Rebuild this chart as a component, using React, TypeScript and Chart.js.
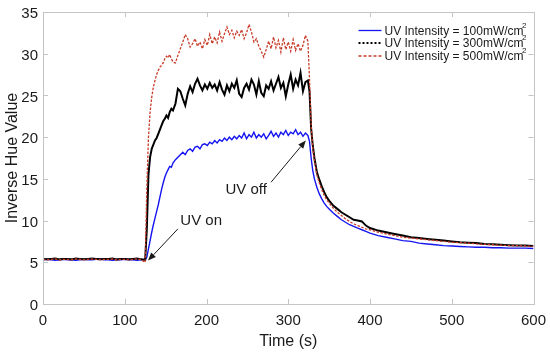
import React, { useEffect, useRef } from "react";
import { Chart, registerables } from "chart.js";

Chart.register(...registerables);

// ---------- DATA ----------
const TIMES = [
  0, 5, 10, 15, 20, 25, 30, 35, 40, 45, 50, 55, 60, 65, 70, 75, 80, 85, 90, 95, 100, 105, 110, 115, 120, 125,
  127, 129, 131, 133, 135, 137, 139, 141, 143, 145, 147, 149, 151, 153, 155, 157, 159,
  162, 165, 168, 171, 174, 177, 180, 183, 186, 189, 192, 195, 198, 201, 204, 207, 210, 213, 216, 219,
  222, 225, 228, 231, 234, 237, 240, 243, 246, 249, 252, 255, 258, 261, 264, 267, 270, 273, 276, 279,
  282, 285, 288, 291, 294, 297, 300, 303, 306, 309, 312, 315, 318, 321, 324,
  326, 328, 330, 332, 335, 338, 341, 344, 347, 350, 355, 360, 365, 370, 375, 380, 385, 390, 395, 400,
  410, 420, 430, 440, 450, 460, 470, 480, 490, 500, 510, 520, 530, 540, 550, 560, 570, 580, 590, 600,
];

const UV100 = [
  5.3, 5.35, 5.3, 5.25, 5.3, 5.35, 5.3, 5.3, 5.25, 5.3, 5.35, 5.3, 5.3, 5.35, 5.4, 5.3, 5.3, 5.25, 5.3, 5.3, 5.35, 5.3, 5.3, 5.25, 5.3, 5.3,
  5.6, 6.6, 7.6, 8.6, 9.5, 10.3, 11.1, 11.9, 12.8, 13.7, 14.5, 15.2, 15.7, 16.1, 16.5, 16.4, 16.9,
  17.3, 17.6, 17.9, 18.2, 17.9, 18.4, 18.6, 18.3, 18.8, 18.9, 18.6, 19.1, 19.2, 19.0, 19.4, 19.2, 19.6, 19.3, 19.7,
  19.5, 19.9, 19.6, 20.0, 19.7, 20.1, 19.8, 20.2, 19.9, 20.5, 19.8, 20.3, 20.0, 20.6, 19.9, 20.3, 20.0, 20.4, 19.8, 20.2,
  20.7, 20.1, 20.5, 20.0, 20.6, 20.3, 20.8, 20.2, 20.6, 20.4, 20.9, 20.3, 20.6, 20.1, 20.5, 20.2,
  19.5, 17.5, 16.0, 15.0, 14.0, 13.2, 12.6, 12.1, 11.7, 11.4, 10.9, 10.5, 10.1, 9.8, 9.5, 9.3, 9.1, 8.9, 8.7, 8.5,
  8.2, 8.0, 7.8, 7.6, 7.5, 7.3, 7.2, 7.1, 7.0, 6.95, 6.9, 6.85, 6.8, 6.8, 6.75, 6.75, 6.7, 6.7, 6.7, 6.65,
];

const UV300 = [
  5.4, 5.35, 5.4, 5.45, 5.35, 5.4, 5.4, 5.35, 5.45, 5.4, 5.35, 5.4, 5.45, 5.4, 5.35, 5.4, 5.4, 5.45, 5.35, 5.4, 5.4, 5.35, 5.4, 5.45, 5.35, 5.3,
  9.0, 15.5, 17.6, 18.6, 19.1, 19.6, 19.9, 20.4, 20.9, 21.4, 21.9, 22.2, 22.6, 22.3, 23.0, 23.4, 23.2,
  24.0, 25.8, 25.5, 24.6, 23.8, 25.2, 26.1, 25.4, 26.4, 27.0, 26.2, 25.6, 26.3, 25.8, 26.5, 25.9, 26.3, 25.6, 26.6,
  25.7, 25.1, 26.2, 25.5, 26.4, 25.9, 26.8, 25.2, 24.8, 25.9, 26.4, 25.7, 26.9, 26.3, 25.1, 26.7, 25.3, 24.9, 26.2,
  25.8, 26.7, 25.6, 26.4, 27.2, 25.9, 26.5, 24.9, 26.3, 27.5, 25.8, 26.9, 26.2, 27.7, 25.5, 26.6, 26.8,
  25.5, 21.0, 19.0, 17.5, 15.8, 14.9, 14.1, 13.4, 12.8, 12.4, 11.8, 11.4, 11.0, 10.7, 10.4, 10.1, 10.0, 9.9, 9.4, 9.1,
  8.8, 8.6, 8.4, 8.2, 8.0, 7.9, 7.8, 7.7, 7.6, 7.5, 7.4, 7.35, 7.3, 7.2, 7.15, 7.1, 7.05, 7.0, 7.0, 6.95,
];

const UV500 = [
  5.35, 5.3, 5.35, 5.4, 5.3, 5.35, 5.35, 5.3, 5.4, 5.35, 5.3, 5.35, 5.4, 5.35, 5.3, 5.35, 5.35, 5.4, 5.3, 5.35, 5.35, 5.3, 5.35, 5.4, 5.3, 5.0,
  14.0, 20.0, 23.0, 24.8, 26.0, 26.8, 27.5, 28.0, 28.4, 28.6, 28.9, 29.4, 29.7, 29.5, 29.9, 29.4, 29.0,
  28.9, 29.8, 30.6, 31.4, 32.3, 31.8, 30.8, 31.2, 31.8, 30.9, 31.4, 30.6, 31.7, 31.0, 32.3, 31.2, 32.0, 31.3, 32.6,
  31.5, 32.4, 33.2, 32.3, 32.8, 31.9, 32.7, 32.2, 32.9, 31.8, 32.5, 33.5, 32.6, 31.4, 31.8, 30.9, 30.3, 29.6, 30.5,
  31.5, 30.6, 32.0, 30.7, 31.6, 30.2, 31.9, 30.5, 31.4, 30.3, 31.7, 30.4, 31.2, 30.3, 31.0, 32.2, 31.5,
  27.0, 21.5, 18.7, 17.2, 15.5, 14.5, 13.7, 13.0, 12.5, 12.1, 11.5, 11.0, 10.6, 10.2, 9.9, 9.6, 9.4, 9.2, 9.0, 8.9,
  8.6, 8.4, 8.2, 8.0, 7.9, 7.8, 7.7, 7.6, 7.5, 7.4, 7.35, 7.3, 7.2, 7.15, 7.1, 7.05, 7.0, 7.0, 6.95, 6.9,
];

const SERIES_LABELS = ["UV Intensity = 100mW/cm", "UV Intensity = 300mW/cm", "UV Intensity = 500mW/cm"];
const X_TICKS = [0, 100, 200, 300, 400, 500, 600];
const Y_TICKS = [0, 5, 10, 15, 20, 25, 30, 35];
const X_TITLE = "Time (s)";
const Y_TITLE = "Inverse Hue Value";

// annotation: label centre and arrow (from -> to) in data units
const NOTES = [
  { text: "UV on", lx: 193.5, ly: 10.0, fx: 165, fy: 9.0, tx: 128.5, ty: 5.2 },
  { text: "UV off", lx: 248.6, ly: 13.7, fx: 279, fy: 14.6, tx: 321.5, ty: 19.6 },
];

const FONT = "'Liberation Sans', Arial, sans-serif";
const FRAME = "#c4c4c4";
const TEXT = "#1a1a1a";

function pts(vals: number[]) {
  return TIMES.map((t, i) => ({ x: t, y: vals[i] }));
}

const decorPlugin = {
  id: "decor",
  afterDatasetsDraw(chart: any) {
    const { ctx, chartArea: a, scales } = chart;
    const xs = scales.x;
    const ys = scales.y;
    ctx.save();
    // frame
    ctx.strokeStyle = FRAME;
    ctx.lineWidth = 1;
    ctx.setLineDash([]);
    ctx.strokeRect(Math.round(a.left) + 0.5, Math.round(a.top) + 0.5, Math.round(a.right - a.left), Math.round(a.bottom - a.top));
    // ticks inside
    const tl = 5;
    ctx.beginPath();
    X_TICKS.forEach((v) => {
      const px = Math.round(xs.getPixelForValue(v)) + 0.5;
      ctx.moveTo(px, a.bottom);
      ctx.lineTo(px, a.bottom - tl);
      ctx.moveTo(px, a.top);
      ctx.lineTo(px, a.top + tl);
    });
    Y_TICKS.forEach((v) => {
      const py = Math.round(ys.getPixelForValue(v)) + 0.5;
      ctx.moveTo(a.left, py);
      ctx.lineTo(a.left + tl, py);
      ctx.moveTo(a.right, py);
      ctx.lineTo(a.right - tl, py);
    });
    ctx.stroke();

    // legend
    const ds = chart.data.datasets;
    const lx0 = a.right - 175;
    const rows = [a.top + 18.5, a.top + 31, a.top + 44];
    ds.forEach((d: any, i: number) => {
      const y = rows[i];
      ctx.save();
      ctx.strokeStyle = d.borderColor;
      ctx.lineWidth = i === 1 ? 2 : 1.3;
      ctx.setLineDash(i === 0 ? [] : i === 1 ? [2, 2] : [3, 2]);
      ctx.beginPath();
      ctx.moveTo(lx0, y);
      ctx.lineTo(lx0 + 23, y);
      ctx.stroke();
      ctx.restore();
      ctx.fillStyle = TEXT;
      ctx.font = `12px ${FONT}`;
      ctx.textBaseline = "middle";
      ctx.textAlign = "left";
      ctx.fillText(d.label, lx0 + 26, y + 1);
      const w = ctx.measureText(d.label).width;
      ctx.font = `8px ${FONT}`;
      ctx.fillText("2", lx0 + 26 + w - 1.5, y - 5);
    });

    // annotations
    ctx.fillStyle = TEXT;
    ctx.strokeStyle = TEXT;
    ctx.font = `15px ${FONT}`;
    ctx.textAlign = "center";
    ctx.textBaseline = "middle";
    NOTES.forEach((n) => {
      ctx.fillText(n.text, xs.getPixelForValue(n.lx), ys.getPixelForValue(n.ly));
      const x1 = xs.getPixelForValue(n.fx);
      const y1 = ys.getPixelForValue(n.fy);
      const x2 = xs.getPixelForValue(n.tx);
      const y2 = ys.getPixelForValue(n.ty);
      const ang = Math.atan2(y2 - y1, x2 - x1);
      const hl = 8;
      const hw = 3.2;
      const bx = x2 - hl * Math.cos(ang);
      const by = y2 - hl * Math.sin(ang);
      ctx.lineWidth = 1;
      ctx.beginPath();
      ctx.moveTo(x1, y1);
      ctx.lineTo(bx, by);
      ctx.stroke();
      ctx.beginPath();
      ctx.moveTo(x2, y2);
      ctx.lineTo(bx + hw * Math.sin(ang), by - hw * Math.cos(ang));
      ctx.lineTo(bx - hw * Math.sin(ang), by + hw * Math.cos(ang));
      ctx.closePath();
      ctx.fill();
    });
    ctx.restore();
  },
};

export default function App() {
  const ref = useRef<HTMLCanvasElement | null>(null);
  useEffect(() => {
    document.body.style.margin = "0";
    if (!ref.current) return;
    const chart = new Chart(ref.current, {
      type: "line",
      data: {
        datasets: [
          { label: SERIES_LABELS[0], data: pts(UV100), borderColor: "#1515f0", borderWidth: 1.4, pointRadius: 0, order: 2, tension: 0 },
          { label: SERIES_LABELS[1], data: pts(UV300), borderColor: "#000000", borderWidth: 2, pointRadius: 0, order: 1, tension: 0 },
          { label: SERIES_LABELS[2], data: pts(UV500), borderColor: "#c83a28", borderWidth: 1.3, borderDash: [2.5, 1.5], pointRadius: 0, order: 0, tension: 0 },
        ],
      },
      options: {
        responsive: false,
        animation: false,
        devicePixelRatio: 1,
        layout: { padding: { top: 12, right: 16.5, left: 0, bottom: 0 } },
        plugins: { legend: { display: false }, tooltip: { enabled: false } },
        scales: {
          x: {
            type: "linear",
            min: 0,
            max: 600,
            afterBuildTicks: (s: any) => { s.ticks = X_TICKS.map((v) => ({ value: v })); },
            afterFit: (s: any) => { s.height = 53; s.paddingLeft = 0; s.paddingRight = 0; },
            grid: { display: false, drawTicks: false },
            border: { display: false },
            ticks: { color: TEXT, font: { family: FONT, size: 15 }, padding: 8, maxRotation: 0 },
            title: { display: true, text: X_TITLE, color: TEXT, font: { family: FONT, size: 16 }, padding: { top: 0, bottom: 6 } },
          },
          y: {
            type: "linear",
            min: 0,
            max: 35,
            afterBuildTicks: (s: any) => { s.ticks = Y_TICKS.map((v) => ({ value: v })); },
            afterFit: (s: any) => { s.width = 43; s.paddingTop = 0; s.paddingBottom = 0; },
            grid: { display: false, drawTicks: false },
            border: { display: false },
            ticks: { color: TEXT, font: { family: FONT, size: 15 }, padding: 5, labelOffset: 2 },
            title: { display: true, text: Y_TITLE, color: TEXT, font: { family: FONT, size: 16 }, padding: { top: 3, bottom: 0 } },
          },
        },
      },
      plugins: [decorPlugin],
    } as any);
    return () => chart.destroy();
  }, []);
  return (
    <div style={{ width: 550, height: 357, background: "#fff" }}>
      <canvas ref={ref} width={550} height={357} />
    </div>
  );
}
